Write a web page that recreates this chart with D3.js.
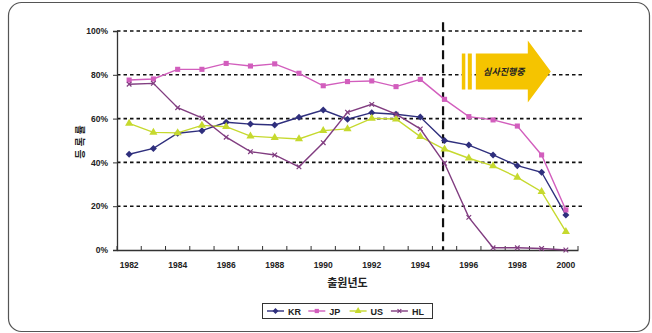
<!DOCTYPE html>
<html><head><meta charset="utf-8">
<script src="https://cdn.jsdelivr.net/npm/d3@7"></script>
<style>body{margin:0;background:#fff}svg{display:block}</style>
</head><body>
<svg id="c" width="652" height="333"></svg>
<script>
const years = [1982,1983,1984,1985,1986,1987,1988,1989,1990,1991,1992,1993,1994,1995,1996,1997,1998,1999,2000];
const KR = [43.7,46.4,53.3,54.5,58.3,57.5,57.1,60.6,63.9,59.7,62.7,62.0,60.7,50.0,47.9,43.4,38.5,35.5,16.0];
const JP = [77.6,78.1,82.5,82.5,85.2,84.0,85.0,80.7,75.0,76.9,77.2,74.6,77.9,68.8,60.9,59.4,56.6,43.4,18.3];
const US = [57.8,53.7,53.5,56.9,56.3,52.0,51.3,50.7,54.5,55.3,60.1,59.8,51.8,46.0,41.9,38.4,33.2,26.6,8.4];
const HL = [75.7,76.1,65.0,60.3,51.5,44.9,43.4,38.0,49.0,62.9,66.5,62.0,55.3,39.6,14.9,1.0,1.0,0.7,0.0];
const yTicks = [0,20,40,60,80,100];
const xLabels = [1982,1984,1986,1988,1990,1992,1994,1996,1998,2000];
const seriesNames = ["KR","JP","US","HL"];
const yTitle = "등록률";
const xTitle = "출원년도";
const arrowText = "심사진행중";
const splitYear = 1995;

const series = [
  {name:"KR", values:KR, color:"#2f2f7d", marker:"diamond"},
  {name:"JP", values:JP, color:"#d25ebd", marker:"square"},
  {name:"US", values:US, color:"#c6d92e", marker:"triangle"},
  {name:"HL", values:HL, color:"#813d80", marker:"cross"}
];

const svg = d3.select("#c");
const numFont = "'Liberation Sans', Arial, sans-serif";
const krFont = "'Noto Sans CJK KR', sans-serif";

// frame
svg.append("rect").attr("x",8.5).attr("y",2.5).attr("width",641).attr("height",329)
  .attr("rx",13).attr("fill","#fff").attr("stroke","#555").attr("stroke-width",1.2);

const x = d3.scaleBand().domain(years).range([117,578]).padding(0);
const xc = d => x(d) + x.bandwidth()/2;
const y = d3.scaleLinear().domain([0,100]).range([250,31]);

// gridlines
svg.append("g").selectAll("line").data(yTicks.filter(d=>d>0)).join("line")
  .attr("x1",117).attr("x2",583).attr("y1",d=>y(d)).attr("y2",d=>y(d))
  .attr("stroke","#111").attr("stroke-width",1.6).attr("stroke-dasharray","3.5,3");

// y axis
const ya = svg.append("g").attr("transform","translate(117,0)")
  .call(d3.axisLeft(y).tickValues(yTicks).tickSize(4).tickFormat(d=>d+"%"));
ya.select(".domain").attr("stroke","#333").attr("stroke-width",1.3);
ya.selectAll(".tick line").attr("stroke","#333");
ya.selectAll("text").attr("x",-9).attr("font-family",numFont).attr("font-weight","bold")
  .attr("font-size",8.5).attr("fill","#222");

// x axis
const xa = svg.append("g").attr("transform","translate(0,250)")
  .call(d3.axisBottom(x).tickSize(0).tickFormat(d=>xLabels.includes(d)?d:""));
xa.select(".domain").attr("stroke","#333").attr("stroke-width",1.3);
xa.selectAll("text").attr("y",12).attr("font-family",numFont).attr("font-weight","bold")
  .attr("font-size",8.5).attr("fill","#222");
// boundary tick marks
svg.append("g").selectAll("line").data(years.concat(["end"])).join("line")
  .attr("x1",d=>d==="end"?578:x(d)).attr("x2",d=>d==="end"?578:x(d))
  .attr("y1",246).attr("y2",250).attr("stroke","#333").attr("stroke-width",1);

// axis titles
svg.append("text").attr("transform","translate(84,"+y(50)+") rotate(-90)")
  .attr("text-anchor","middle").attr("font-family",krFont).attr("font-weight","bold")
  .attr("font-size",10).attr("letter-spacing",3).attr("fill","#222").text(yTitle);
svg.append("text").attr("x",(117+578)/2).attr("y",287).attr("text-anchor","middle")
  .attr("font-family",krFont).attr("font-weight","bold").attr("font-size",11).attr("fill","#222").text(xTitle);

// vertical dashed split line
svg.append("line").attr("x1",xc(splitYear)-1.5).attr("x2",xc(splitYear)-1.5)
  .attr("y1",y(104)).attr("y2",y(0)).attr("stroke","#111").attr("stroke-width",2.2)
  .attr("stroke-dasharray","9,5");

// arrow annotation
const ax0 = xc(1996) - 7, cy = y(81.5);
const ag = svg.append("g").attr("fill","#f5c400");
ag.append("rect").attr("x",ax0).attr("y",cy-18).attr("width",3.5).attr("height",36);
ag.append("rect").attr("x",ax0+6).attr("y",cy-18).attr("width",4).attr("height",36);
ag.append("path").attr("d",
  `M${ax0+14},${cy-18} L${ax0+66},${cy-18} L${ax0+66},${cy-31} L${ax0+89},${cy} L${ax0+66},${cy+31} L${ax0+66},${cy+18} L${ax0+14},${cy+18} Z`);
svg.append("text").attr("x",ax0+42).attr("y",cy+3.5).attr("text-anchor","middle")
  .attr("font-family",krFont).attr("font-weight","bold").attr("font-style","italic")
  .attr("font-size",9).attr("fill","#222").text(arrowText);

function drawMarker(g, type, color, s){
  if(type==="diamond") g.append("path").attr("d",d3.symbol(d3.symbolDiamond2, s*1.2)()).attr("fill",color);
  else if(type==="square") g.append("path").attr("d",d3.symbol(d3.symbolSquare, s)()).attr("fill",color);
  else if(type==="triangle") g.append("path").attr("d",d3.symbol(d3.symbolTriangle, s*1.1)()).attr("fill",color);
  else g.append("path").attr("d",d3.symbol(d3.symbolX, s*0.6)()).attr("fill","none").attr("stroke",color).attr("stroke-width",1.2);
}

// lines
const line = d3.line().x((d,i)=>xc(years[i])).y(d=>y(d));
series.forEach(s=>{
  svg.append("path").datum(s.values).attr("d",line).attr("fill","none")
    .attr("stroke",s.color).attr("stroke-width",1.4);
  s.values.forEach((v,i)=>{
    const g = svg.append("g").attr("transform",`translate(${xc(years[i])},${y(v)})`);
    drawMarker(g,s.marker,s.color,26);
  });
});

// legend
const lg = svg.append("g");
lg.append("rect").attr("x",262.5).attr("y",303.5).attr("width",170).attr("height",15)
  .attr("fill","#fff").attr("stroke","#333").attr("stroke-width",1);
series.forEach((s,i)=>{
  const lx = 267 + i*41.3;
  lg.append("line").attr("x1",lx).attr("x2",lx+17).attr("y1",311).attr("y2",311)
    .attr("stroke",s.color).attr("stroke-width",1.4);
  const m = lg.append("g").attr("transform",`translate(${lx+8.5},311)`);
  drawMarker(m,s.marker,s.color,18);
  lg.append("text").attr("x",lx+21).attr("y",314.5).attr("font-family",numFont)
    .attr("font-weight","bold").attr("font-size",9).attr("fill","#222").text(seriesNames[i]);
});
</script>
</body></html>
